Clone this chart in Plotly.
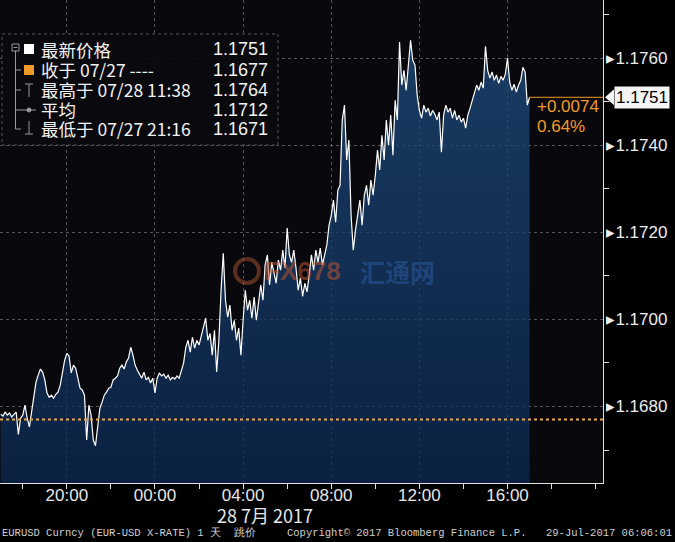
import plotly.graph_objects as go
import pandas as pd

# ---------------- data ----------------
times = pd.date_range("2017-07-27 17:00", "2017-07-28 17:00", freq="6min")
prices = [
    # 17:00
    1.16782, 1.16778, 1.16787, 1.16780, 1.16785, 1.16776, 1.16782, 1.16787, 1.16736, 1.16773,
    # 18:00
    1.16780, 1.16803, 1.16773, 1.16753, 1.16787, 1.16821, 1.16856, 1.16872, 1.16886, 1.16879,
    # 19:00
    1.16861, 1.16831, 1.16821, 1.16826, 1.16819, 1.16828, 1.16833, 1.16849, 1.16883, 1.16906,
    # 20:00
    1.16922, 1.16916, 1.16877, 1.16895, 1.16888, 1.16861, 1.16842, 1.16838, 1.16826, 1.16723,
    # 21:00
    1.16803, 1.16780, 1.16723, 1.16710, 1.16750, 1.16796, 1.16810, 1.16826, 1.16833, 1.16842,
    # 22:00
    1.16844, 1.16861, 1.16865, 1.16870, 1.16888, 1.16895, 1.16886, 1.16902, 1.16911, 1.16936,
    # 23:00
    1.16918, 1.16895, 1.16883, 1.16872, 1.16865, 1.16879, 1.16861, 1.16867, 1.16854, 1.16865,
    # 00:00
    1.16831, 1.16865, 1.16877, 1.16870, 1.16874, 1.16865, 1.16872, 1.16861, 1.16867, 1.16863,
    # 01:00
    1.16870, 1.16865, 1.16883, 1.16900, 1.16936, 1.16952, 1.16925, 1.16959, 1.16934, 1.16952,
    # 02:00
    1.16941, 1.16964, 1.16984, 1.17003, 1.16952, 1.16968, 1.16918, 1.16975, 1.16879, 1.16952,
    # 03:00
    1.17067, 1.17152, 1.17044, 1.17005, 1.17033, 1.16975, 1.16998, 1.16952, 1.16980, 1.16918,
    # 04:00
    1.16998, 1.17067, 1.17021, 1.17044, 1.17003, 1.17051, 1.16998, 1.17033, 1.17079, 1.17044,
    # 05:00
    1.17125, 1.17148, 1.17079, 1.17131, 1.17102, 1.17083, 1.17136, 1.17113, 1.17159, 1.17118,
    # 06:00
    1.17210, 1.17148, 1.17131, 1.17159, 1.17118, 1.17067, 1.17095, 1.17053, 1.17083, 1.17063,
    # 07:00
    1.17102, 1.17148, 1.17113, 1.17159, 1.17131, 1.17164, 1.17125, 1.17148, 1.17171, 1.17216,
    # 08:00
    1.17239, 1.17274, 1.17223, 1.17297, 1.17308, 1.17458, 1.17492, 1.17366, 1.17412, 1.17239,
    # 09:00
    1.17159, 1.17205, 1.17239, 1.17274, 1.17216, 1.17285, 1.17308, 1.17262, 1.17320, 1.17285,
    # 10:00
    1.17331, 1.17389, 1.17343, 1.17423, 1.17366, 1.17458, 1.17400, 1.17469, 1.17377, 1.17503,
    # 11:00
    1.17458, 1.17637, 1.17538, 1.17572, 1.17526, 1.17591, 1.17641, 1.17595, 1.17584, 1.17515,
    # 12:00
    1.17480, 1.17462, 1.17492, 1.17476, 1.17485, 1.17467, 1.17480, 1.17471, 1.17458, 1.17476,
    # 13:00
    1.17384, 1.17469, 1.17492, 1.17476, 1.17485, 1.17462, 1.17480, 1.17458, 1.17469, 1.17453,
    # 14:00
    1.17462, 1.17439, 1.17469, 1.17485, 1.17503, 1.17515, 1.17538, 1.17526, 1.17545, 1.17531,
    # 15:00
    1.17627, 1.17572, 1.17554, 1.17568, 1.17549, 1.17561, 1.17542, 1.17558, 1.17549, 1.17563,
    # 16:00
    1.17600, 1.17545, 1.17526, 1.17540, 1.17522, 1.17538, 1.17549, 1.17579, 1.17568, 1.17492,
    # 17:00
    1.17510,
]

last_price = 1.1751
prev_close = 1.1677
change_text = ["+0.0074", "0.64%"]

legend_names = ["最新价格", "收于 07/27 ----", "最高于 07/28 11:38", "平均", "最低于 07/27 21:16"]
legend_values = ["1.1751", "1.1677", "1.1764", "1.1712", "1.1671"]

y_ticks = [1.1680, 1.1700, 1.1720, 1.1740, 1.1760]
y_minor = [1.1670, 1.1690, 1.1710, 1.1730, 1.1750, 1.1770]
x_ticks = pd.date_range("2017-07-27 20:00", "2017-07-28 16:00", freq="4h")
x_range = ["2017-07-27 16:58", "2017-07-28 20:20"]
y_range = [1.166243, 1.177334]

date_label = "28 7月 2017"
footer_left = "EURUSD Curncy (EUR-USD X-RATE) 1 天  跳价"
footer_mid = "Copyright© 2017 Bloomberg Finance L.P."
footer_right = "29-Jul-2017 06:06:01"

# ---------------- layout helpers ----------------
W, H = 675, 542
PW, PH = 603, 483  # plot area size in px


def px(x):
    return x / PW


def py(y):
    return 1 - y / PH


ORANGE = "#f09a2a"
CJK = "Noto Sans CJK SC"
SANS = "Liberation Sans"

fig = go.Figure()

# baseline for fill
fig.add_trace(go.Scatter(
    x=times, y=[y_range[0]] * len(times), mode="lines",
    line=dict(width=0, color="rgba(0,0,0,0)"), hoverinfo="skip", showlegend=False))

fig.add_trace(go.Scatter(
    x=times, y=prices, mode="lines",
    line=dict(color="#ffffff", width=1.2),
    fill="tonexty",
    fillgradient=dict(type="vertical", start=y_range[0], stop=1.1765,
                      colorscale=[[0, "rgba(12,40,80,0.78)"], [1, "rgba(30,74,124,0.78)"]]),
    showlegend=False))

shapes = []
annotations = []

# previous close dotted line
shapes.append(dict(type="line", xref="paper", yref="y", x0=0, x1=1, y0=prev_close, y1=prev_close,
                   line=dict(color="#e8a850", width=2, dash="dot"), layer="above"))
# last price orange line to axis
shapes.append(dict(type="line", xref="x", yref="y", x0=times[-1], x1=x_range[1],
                   y0=last_price, y1=last_price, line=dict(color=ORANGE, width=1), layer="above"))

# legend box
shapes.append(dict(type="rect", xref="paper", yref="paper", x0=px(2), x1=px(278), y0=py(145), y1=py(34),
                   fillcolor="rgba(10,10,14,0.9)", line=dict(color="#555555", width=1, dash="dot"),
                   layer="above"))
# tree lines
grey = "#9a9a9a"
shapes.append(dict(type="rect", xref="paper", yref="paper", x0=px(12), x1=px(19), y0=py(51), y1=py(44),
                   line=dict(color=grey, width=1), layer="above"))
shapes.append(dict(type="line", xref="paper", yref="paper", x0=px(13.5), x1=px(17.5), y0=py(47.5), y1=py(47.5),
                   line=dict(color=grey, width=1), layer="above"))
shapes.append(dict(type="line", xref="paper", yref="paper", x0=px(15.5), x1=px(15.5), y0=py(51), y1=py(129),
                   line=dict(color=grey, width=1), layer="above"))
for ry in [70, 90, 110, 129]:
    shapes.append(dict(type="line", xref="paper", yref="paper", x0=px(15.5), x1=px(21), y0=py(ry), y1=py(ry),
                       line=dict(color=grey, width=1), layer="above"))
# squares
shapes.append(dict(type="rect", xref="paper", yref="paper", x0=px(24), x1=px(34), y0=py(54), y1=py(44),
                   fillcolor="#ffffff", line=dict(width=0), layer="above"))
shapes.append(dict(type="rect", xref="paper", yref="paper", x0=px(24), x1=px(34), y0=py(75), y1=py(65),
                   fillcolor=ORANGE, line=dict(width=0), layer="above"))
# high icon (T)
shapes.append(dict(type="line", xref="paper", yref="paper", x0=px(25), x1=px(33), y0=py(84), y1=py(84),
                   line=dict(color=grey, width=1), layer="above"))
shapes.append(dict(type="line", xref="paper", yref="paper", x0=px(29), x1=px(29), y0=py(84), y1=py(97),
                   line=dict(color=grey, width=1), layer="above"))
# average icon (-o-)
shapes.append(dict(type="line", xref="paper", yref="paper", x0=px(21), x1=px(36), y0=py(110), y1=py(110),
                   line=dict(color=grey, width=1), layer="above"))
shapes.append(dict(type="circle", xref="paper", yref="paper", x0=px(27), x1=px(31), y0=py(112), y1=py(108),
                   fillcolor=grey, line=dict(color=grey, width=1), layer="above"))
# low icon (upside-down T)
shapes.append(dict(type="line", xref="paper", yref="paper", x0=px(29), x1=px(29), y0=py(121), y1=py(134),
                   line=dict(color=grey, width=1), layer="above"))
shapes.append(dict(type="line", xref="paper", yref="paper", x0=px(25), x1=px(33), y0=py(134), y1=py(134),
                   line=dict(color=grey, width=1), layer="above"))

row_y = [49, 69.5, 89.5, 109.5, 129]
for name, val, ry in zip(legend_names, legend_values, row_y):
    annotations.append(dict(text=name, xref="paper", yref="paper", x=px(39), y=py(ry), xanchor="left",
                            yanchor="middle", showarrow=False, font=dict(family=CJK, size=17.5, color="#f2f2f2")))
    annotations.append(dict(text=val, xref="paper", yref="paper", x=px(270), y=py(ry), xanchor="right",
                            yanchor="middle", showarrow=False, font=dict(family=SANS, size=18, color="#f2f2f2")))

# change text
for t, ry in zip(change_text, [106, 126]):
    annotations.append(dict(text=t, xref="paper", yref="paper", x=px(535), y=py(ry), xanchor="left",
                            yanchor="middle", showarrow=False, font=dict(family=SANS, size=17, color=ORANGE)))

# last price box with pointer
off = 8 * (y_range[1] - y_range[0]) / PH
shapes.append(dict(type="path", xref="paper", yref="y",
                   path=f"M {px(605)},{last_price} L {px(614)},{last_price + off} L {px(614)},{last_price - off} Z",
                   fillcolor="#f4f4f4", line=dict(width=0), layer="above"))
annotations.append(dict(text=f"{last_price:.4f}", xref="paper", yref="y", x=px(614), y=last_price,
                        xanchor="left", yanchor="middle", showarrow=False, bgcolor="#f4f4f4",
                        borderpad=1, font=dict(family=SANS, size=17, color="#000000")))

# watermark
shapes.append(dict(type="circle", xref="paper", yref="paper", x0=px(235), x1=px(259), y0=py(283), y1=py(259),
                   line=dict(color="rgba(190,90,50,0.45)", width=4), layer="above"))
annotations.append(dict(text="<b>FX678</b>", xref="paper", yref="paper", x=px(262), y=py(271),
                        xanchor="left", yanchor="middle", showarrow=False,
                        font=dict(family=SANS, size=26, color="rgba(190,85,45,0.55)")))
annotations.append(dict(text="<b>汇通网</b>", xref="paper", yref="paper", x=px(358), y=py(271),
                        xanchor="left", yanchor="middle", showarrow=False,
                        font=dict(family=CJK, size=25, color="rgba(40,85,150,0.6)")))

# date label
annotations.append(dict(text=date_label, xref="paper", yref="paper", x=px(265), y=py(515),
                        xanchor="center", yanchor="middle", showarrow=False,
                        font=dict(family=CJK, size=18, color="#e6e6e6")))
# footer
fy = py(533)
ffont = dict(family="Liberation Mono", size=10.5, color="#cfcfcf")
annotations.append(dict(text=footer_left, xref="paper", yref="paper", x=0, y=fy, xanchor="left",
                        yanchor="middle", showarrow=False, font=ffont))
annotations.append(dict(text=footer_mid, xref="paper", yref="paper", x=px(285), y=fy, xanchor="left",
                        yanchor="middle", showarrow=False, font=ffont))
annotations.append(dict(text=footer_right, xref="paper", yref="paper", x=px(674), y=fy, xanchor="right",
                        yanchor="middle", showarrow=False, font=ffont))

fig.update_layout(
    width=W, height=H,
    margin=dict(l=0, r=W - PW, t=0, b=H - PH),
    paper_bgcolor="#000000",
    plot_bgcolor="#08080d",
    showlegend=False,
    shapes=shapes,
    annotations=annotations,
    xaxis=dict(
        type="date", range=x_range, tickmode="array", tickvals=x_ticks, tickformat="%H:%M",
        showgrid=True, gridcolor="rgba(150,150,150,0.55)", griddash="dot", gridwidth=1,
        showline=True, linecolor="#e0e0e0", linewidth=1,
        ticks="outside", ticklen=5, tickcolor="#e0e0e0", ticklabelstandoff=-8,
        minor=dict(tick0="2017-07-27 18:00", dtick=2 * 3600 * 1000, ticks="outside", ticklen=5,
                   tickcolor="#e0e0e0", showgrid=False),
        tickfont=dict(family=SANS, size=17, color="#e6e6e6"),
        zeroline=False, fixedrange=True,
    ),
    yaxis=dict(
        side="right", range=y_range, tickmode="array", tickvals=y_ticks,
        ticktext=[f"▸{v:.4f}" for v in y_ticks],
        showgrid=True, gridcolor="rgba(150,150,150,0.55)", griddash="dot", gridwidth=1,
        showline=True, linecolor="#e0e0e0", linewidth=1,
        ticks="", ticklabelstandoff=-1,
        minor=dict(tickmode="array", tickvals=y_minor, ticks="outside", ticklen=5,
                   tickcolor="#e0e0e0", showgrid=False),
        tickfont=dict(family=SANS, size=17, color="#ececec"),
        zeroline=False, fixedrange=True,
    ),
)

fig.write_html(
    "out.html",
    config={"displayModeBar": False},
    post_script="document.body.style.margin='0';document.body.style.background='#000';",
)
